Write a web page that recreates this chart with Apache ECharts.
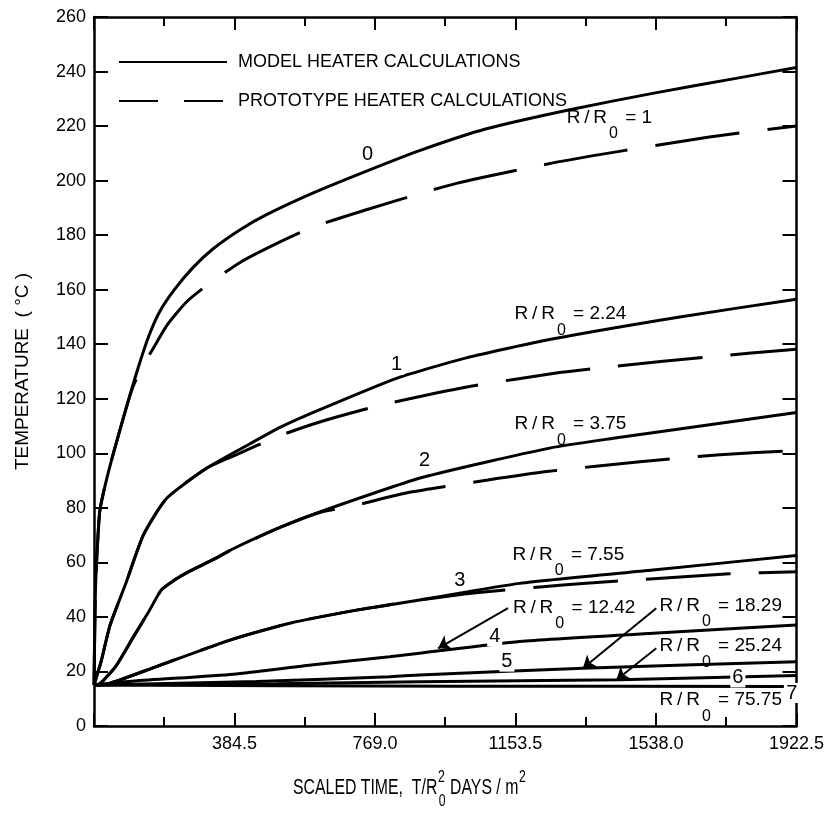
<!DOCTYPE html>
<html>
<head>
<meta charset="utf-8">
<script src="https://cdn.jsdelivr.net/npm/echarts@6/dist/echarts.min.js"></script>
<style>
  html, body { margin: 0; padding: 0; background: #fff; }
  #chart { width: 827px; height: 813px; }
</style>
</head>
<body>
<div id="chart"></div>
<script>
// curves: [scaled time, temperature]
const model0 = [[0, 15], [2, 35], [4, 50], [7, 60], [11, 70], [16, 79], [30, 88], [53, 100], [89, 117], [120, 131], [150, 143], [180, 152], [220, 160], [270, 168], [326, 175], [400, 182], [472, 187.5], [600, 195.5], [746, 203.5], [891, 211], [1074, 219], [1302, 226], [1529, 232], [1757, 237.5], [1922.5, 241.5]];
const proto0 = [[0, 15], [2, 35], [4, 50], [7, 60], [11, 70], [16, 79], [30, 88], [53, 100], [89, 117], [107, 124.5], [135, 132.5], [160, 138], [200, 147], [253, 155.5], [313, 162], [400, 170], [509, 177.5], [600, 183], [750, 189.5], [873, 194.5], [992, 199], [1256, 206.5], [1450, 211], [1684, 216], [1922.5, 220]];
const model1 = [[0, 15], [20, 24], [44, 37], [89, 53], [135, 70], [199, 83.5], [308, 94.5], [427, 103.5], [509, 109.5], [618, 116], [828, 127.5], [1019, 135], [1250, 141.8], [1603, 150], [1922.5, 156.5]];
const proto1 = [[0, 15], [20, 24], [44, 37], [89, 53], [135, 70], [199, 83.5], [308, 94.5], [381, 99], [509, 106.5], [618, 111.5], [787, 117.7], [1024, 124.4], [1274, 129.6], [1430, 132], [1685, 135.4], [1922.5, 138.2]];
const model2 = [[0, 15], [16, 15.5], [60, 22], [107, 32.5], [150, 42], [185, 50], [220, 53.5], [262, 56.8], [326, 61], [381, 65], [509, 72.8], [618, 78.5], [900, 91.2], [1250, 102], [1421, 105.5], [1922.5, 115]];
const proto2 = [[0, 15], [16, 15.5], [60, 22], [107, 32.5], [150, 42], [185, 50], [220, 53.5], [262, 56.8], [326, 61], [381, 65], [509, 72.8], [618, 78.3], [709, 80.7], [860, 85.6], [1078, 90.2], [1239, 93.3], [1494, 96.9], [1713, 99.5], [1922.5, 101]];
const model3 = [[0, 15], [40, 15.5], [171, 21.8], [372, 31.5], [536, 37.7], [718, 42.5], [891, 46.2], [1165, 52.3], [1530, 57.2], [1922.5, 62.5]];
const proto3 = [[0, 15], [40, 15.5], [171, 21.8], [372, 31.5], [536, 37.7], [718, 42.5], [891, 46.2], [1046, 48.9], [1229, 51.1], [1338, 52.3], [1511, 53.8], [1739, 55.8], [1922.5, 56.6]];
const model4 = [[0, 15], [110, 16.5], [381, 19], [600, 22.5], [809, 25.4], [891, 26.7], [1165, 31], [1530, 34], [1922.5, 37]];
const model5 = [[0, 15], [445, 16.3], [809, 18.1], [891, 18.7], [1338, 21.2], [1922.5, 23.6]];
const model6 = [[0, 15], [500, 15.5], [891, 16.2], [1438, 17], [1922.5, 18.5]];
const model7 = [[0, 15], [1000, 14.6], [1888, 14.5]];

// R/R0 value labels and curve numbers, placed in data coordinates
const ratioLabels = [[1293.5, 223, '1'], [1151, 150.9, '2.24'], [1151, 110.6, '3.75'], [1145, 62.7, '7.55'], [1146.7, 43.3, '12.42'], [1547.8, 44, '18.29'], [1547.8, 29.1, '25.24'], [1547.8, 9.5, '75.75']];
const curveNumbers = [[749, 209.4, '0'], [827.8, 132.4, '1'], [905, 97.5, '2'], [1001, 53.5, '3'], [1096.6, 33, '4'], [1130, 23.6, '5'], [1762, 17.8, '6'], [1910, 12.1, '7']];
const arrows = [[[1133, 43.2], [941.6, 28.5]], [[1538.8, 43.2], [1338, 21.2]], [[1538.8, 28.5], [1429.5, 16.9]]];

const xTicks = [384.5, 769.0, 1153.5, 1538.0, 1922.5];

const FONT = '"Liberation Sans", Arial, sans-serif';
const INK = '#000';
const MODEL = 'MODEL HEATER CALCULATIONS';
const PROTO = 'PROTOTYPE HEATER CALCULATIONS';

var chart = echarts.init(document.getElementById('chart'));

function curve(name, data, dashed) {
    return {
        name: name,
        type: 'line',
        data: data,
        symbol: 'none',
        showSymbol: false,
        smooth: 0.2,
        silent: true,
        lineStyle: { color: INK, width: 3, type: dashed ? [85, 28] : 'solid', cap: 'butt' },
        itemStyle: { color: INK }
    };
}

// onZero off, otherwise the top/right axes jump onto the bottom/left ones
var axisCommon = {
    axisLine: { onZero: false, lineStyle: { color: INK, width: 2.5 } },
    splitLine: { show: false }
};

var plainLabel = { textBorderWidth: 0, textBorderColor: 'transparent', color: INK, opacity: 1 };

var option = {
    backgroundColor: '#fff',
    animation: false,
    textStyle: { fontFamily: FONT, color: INK },
    grid: { left: 94, right: 30, top: 17, bottom: 87 },
    legend: {
        left: 118,
        top: 53,
        padding: 0,
        orient: 'vertical',
        itemWidth: 108,
        itemHeight: 14,
        itemGap: 21,
        selectedMode: false,
        itemStyle: { opacity: 0 },
        textStyle: { fontFamily: FONT, fontSize: 18, color: INK, padding: [0, 0, 0, 6] },
        data: [
            { name: MODEL },
            { name: PROTO, lineStyle: { type: [39, 26] } }
        ]
    },
    graphic: [{
        type: 'text',
        x: 293,
        y: 777,
        scaleX: 0.72,
        silent: true,
        style: {
            text: '{a|SCALED TIME,  T/R}{b|2}{c|0}{a| DAYS / m}{d|2}',
            rich: {
                a: { fontFamily: FONT, fontSize: 22, fill: INK, lineHeight: 24, verticalAlign: 'top' },
                b: { fontFamily: FONT, fontSize: 17, fill: INK, width: 0, align: 'left', verticalAlign: 'top', padding: [-8, 0, 0, 1] },
                c: { fontFamily: FONT, fontSize: 17, fill: INK, verticalAlign: 'top', padding: [16, 0, 0, 1] },
                d: { fontFamily: FONT, fontSize: 17, fill: INK, verticalAlign: 'top', padding: [-8, 0, 0, 1] }
            }
        }
    }],
    xAxis: [
        Object.assign({
            type: 'value', min: 0, max: 1922.5, interval: 384.5,
            axisTick: { inside: true, length: 13, lineStyle: { color: INK, width: 2 } },
            minorTick: { show: true, splitNumber: 2, length: 9, lineStyle: { color: INK, width: 2 } },
            axisLabel: {
                fontFamily: FONT, fontSize: 18, color: INK, margin: 9,
                formatter: function (v) {
                    return xTicks.indexOf(v) >= 0 ? v.toFixed(1) : '';
                }
            }
        }, axisCommon),
        Object.assign({
            type: 'value', min: 0, max: 1922.5, interval: 384.5, position: 'top',
            axisTick: { inside: true, length: 13, lineStyle: { color: INK, width: 2 } },
            minorTick: { show: true, splitNumber: 2, length: 9, lineStyle: { color: INK, width: 2 } },
            axisLabel: { show: false }
        }, axisCommon)
    ],
    yAxis: [
        Object.assign({
            type: 'value', min: 0, max: 260, interval: 20,
            axisTick: { inside: true, length: 14, lineStyle: { color: INK, width: 2 } },
            axisLabel: { fontFamily: FONT, fontSize: 18, color: INK, margin: 8 },
            name: 'TEMPERATURE  ( °C )',
            nameLocation: 'middle',
            nameGap: 62,
            nameTextStyle: { fontFamily: FONT, fontSize: 19, color: INK }
        }, axisCommon),
        Object.assign({
            type: 'value', min: 0, max: 260, interval: 20, position: 'right',
            axisTick: { inside: true, length: 14, lineStyle: { color: INK, width: 2 } },
            axisLabel: { show: false }
        }, axisCommon)
    ],
    series: [
        curve(MODEL, model0, false),
        curve(MODEL, model1, false),
        curve(MODEL, model2, false),
        curve(MODEL, model3, false),
        curve(MODEL, model4, false),
        curve(MODEL, model5, false),
        curve(MODEL, model6, false),
        curve(MODEL, model7, false),
        curve(PROTO, proto0, true),
        curve(PROTO, proto1, true),
        curve(PROTO, proto2, true),
        curve(PROTO, proto3, true),
        {
            name: 'ratios',
            type: 'scatter',
            symbolSize: 1,
            itemStyle: { color: 'rgba(0,0,0,0)' },
            silent: true,
            z: 5,
            data: ratioLabels.map(r => ({ value: [r[0], r[1]], name: r[2] })),
            label: Object.assign({
                show: true,
                position: 'inside',
                align: 'left',
                offset: [0, 8],
                formatter: p => '{t|R\u2009/\u2009R}{s|0}{t| = ' + p.name + '}',
                rich: {
                    t: { fontFamily: FONT, fontSize: 19, color: INK, verticalAlign: 'top', padding: [0, 0, 17, 0] },
                    s: { fontFamily: FONT, fontSize: 16, color: INK, verticalAlign: 'top', padding: [18, 2, 0, 2] }
                }
            }, plainLabel),
            markLine: {
                silent: true,
                symbol: ['none', 'arrow'],
                symbolSize: 12,
                label: { show: false },
                lineStyle: { color: INK, width: 2, type: 'solid' },
                data: arrows.map(a => [{ coord: a[0] }, { coord: a[1] }])
            }
        },
        {
            name: 'numbers',
            type: 'scatter',
            symbolSize: 1,
            itemStyle: { color: 'rgba(0,0,0,0)' },
            silent: true,
            z: 5,
            data: curveNumbers.map(r => ({ value: [r[0], r[1]], name: r[2] })),
            label: Object.assign({
                show: true,
                position: 'inside',
                formatter: p => p.name,
                fontFamily: FONT,
                fontSize: 20,
                backgroundColor: '#fff',
                padding: [0, 2]
            }, plainLabel)
        }
    ]
};
chart.setOption(option);
</script>
</body>
</html>
